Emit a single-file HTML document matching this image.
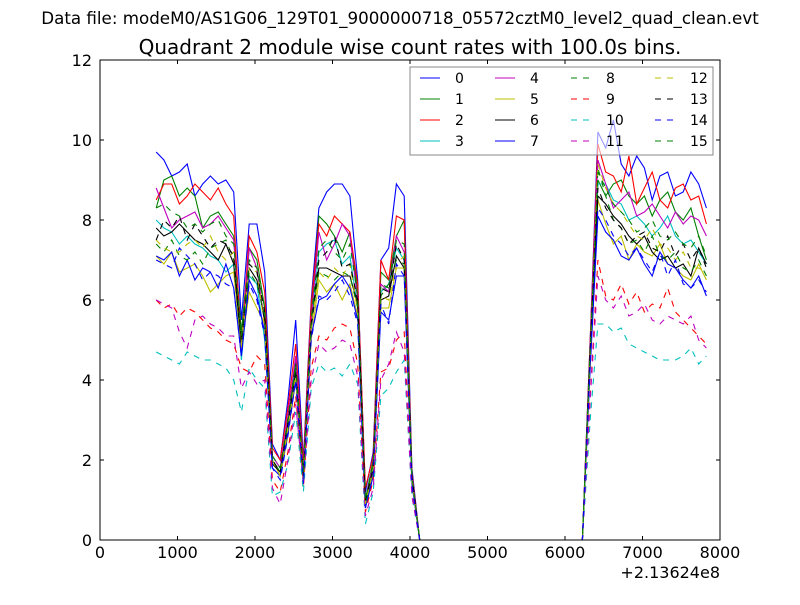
<!DOCTYPE html>
<html><head><meta charset="utf-8"><style>
html,body{margin:0;padding:0;background:#fff}
svg text{font-family:"DejaVu Sans","Liberation Sans",sans-serif}
</style></head><body>
<svg id="chart" width="800" height="600" xmlns="http://www.w3.org/2000/svg">
<rect x="0" y="0" width="800" height="600" fill="#fff"/>
<text x="400" y="24" font-size="16.7" text-anchor="middle">Data file: modeM0/AS1G06_129T01_9000000718_05572cztM0_level2_quad_clean.evt</text>
<text x="410" y="54" font-size="20" text-anchor="middle">Quadrant 2 module wise count rates with 100.0s bins.</text>
<g id="plot"></g>
<text x="720" y="578" font-size="16" text-anchor="end">+2.13624e8</text>
</svg>
<script>
const tStart = 725;
const binSize = 100;
const GAP = [0,0,0,0,0,0,0,0,0,0,0,0,0,0,0,0,0,0,0,0,0,0];
const xTicks = [0,1000,2000,3000,4000,5000,6000,7000,8000];
const yTicks = [0,2,4,6,8,10,12];
const labels = ['0','1','2','3','4','5','6','7','8','9','10','11','12','13','14','15'];
const colors = ['#0000ff','#008000','#ff0000','#00bfbf','#bf00bf','#bfbf00','#000000','#0000ff','#008000','#ff0000','#00bfbf','#bf00bf','#bfbf00','#000000','#0000ff','#008000'];
const s0 = [9.7,9.5,9.1,9.2,9.4,8.6,8.9,9.1,8.9,9.0,8.7,5.5,7.9,7.9,6.7,2.4,2.0,3.5,5.5,2.0,6.0,8.3,8.7,8.9,8.9,8.6,6.5,1.2,2.2,7.0,7.3,8.9,8.6,1.8].concat(GAP,[5.0,10.2,9.8,10.5,9.4,9.1,9.6,9.3,8.5,9.1,9.2,8.6,8.7,9.2,8.9,8.3]);
const s1 = [8.3,9.0,9.1,8.6,8.8,8.6,7.8,8.1,8.2,7.9,7.6,5.2,7.3,7.0,5.8,2.1,1.8,3.0,4.5,1.6,5.6,8.1,7.9,7.6,7.2,7.7,6.2,1.0,2.0,6.7,6.5,7.6,8.0,1.6].concat(GAP,[4.8,9.0,8.6,8.9,9.0,8.6,8.4,8.6,8.1,8.5,8.7,8.2,8.0,8.3,7.6,7.0]);
const s2 = [8.5,8.9,8.9,8.4,8.6,8.9,8.7,8.5,8.8,8.4,8.1,4.8,7.6,7.2,6.2,2.3,2.0,3.3,4.9,1.9,5.9,7.9,7.6,8.1,7.9,7.7,6.4,1.3,2.1,7.0,6.5,8.1,8.0,1.7].concat(GAP,[5.0,9.9,9.2,9.1,8.7,9.6,8.4,8.8,9.2,8.5,8.3,8.8,8.9,8.5,8.6,7.9]);
const s3 = [8.0,7.8,7.7,7.4,7.6,7.4,7.3,7.1,7.0,6.7,6.9,4.5,6.6,6.4,5.0,2.0,1.7,2.8,4.3,1.6,5.3,7.2,7.4,7.5,6.9,7.1,5.8,0.9,1.8,6.2,6.4,7.3,7.0,1.5].concat(GAP,[4.7,8.9,8.9,8.5,8.4,8.0,8.1,7.9,7.6,7.8,8.1,7.6,7.4,7.5,7.2,6.9]);
const s4 = [8.8,8.3,7.8,8.0,8.1,8.2,7.8,7.9,8.1,7.8,7.5,4.7,7.3,6.8,5.4,2.1,1.8,3.1,4.6,1.7,5.5,7.7,7.0,7.4,7.9,7.6,6.0,1.0,1.9,6.4,6.2,7.6,7.2,1.6].concat(GAP,[4.9,9.5,8.9,8.3,8.5,8.7,8.1,8.2,8.4,8.1,7.8,8.2,7.9,8.1,8.0,7.6]);
const s5 = [7.1,6.9,7.2,6.7,6.8,6.9,6.6,6.2,6.4,6.6,6.7,4.8,6.2,5.8,5.4,2.0,1.6,2.6,4.0,1.5,5.0,6.5,6.2,6.4,6.0,6.4,5.6,0.9,1.7,5.8,5.8,6.8,6.8,1.5].concat(GAP,[4.5,8.5,7.9,7.4,7.6,7.0,7.4,7.2,7.1,7.4,6.9,6.8,6.6,6.5,6.9,6.5]);
const s6 = [7.8,7.6,7.7,7.9,7.7,7.5,7.4,7.2,7.0,7.4,6.9,4.9,6.8,6.5,5.5,1.9,1.7,2.9,4.2,1.5,5.3,6.8,6.8,6.7,6.6,6.6,5.9,0.9,1.8,6.0,6.1,7.1,6.8,1.5].concat(GAP,[4.6,8.6,8.4,8.1,7.9,7.6,7.4,7.6,7.2,7.0,7.1,6.8,6.9,6.6,7.3,6.9]);
const s7 = [7.1,7.0,7.2,6.6,7.0,6.5,6.8,6.7,6.3,6.9,6.3,4.6,6.5,6.1,5.2,1.8,1.6,2.7,4.0,1.4,5.1,6.0,6.1,6.4,6.6,6.3,5.5,0.8,1.6,5.7,5.5,6.6,6.6,1.4].concat(GAP,[4.3,8.1,7.7,7.5,7.1,7.0,7.3,6.9,6.6,7.2,6.9,6.8,6.5,6.3,6.6,6.1]);
const s8 = [7.4,7.2,7.5,7.1,7.0,7.2,6.9,7.3,7.4,7.5,7.0,5.0,6.7,6.4,5.6,2.0,1.7,2.9,4.3,1.6,5.4,6.7,6.6,6.5,6.7,6.6,5.8,0.9,1.8,6.1,6.4,7.0,6.9,1.5].concat(GAP,[4.6,9.3,8.6,8.0,7.8,7.4,7.5,7.2,7.6,7.1,7.0,7.2,6.8,6.7,7.0,6.6]);
const s9 = [6.0,5.8,5.9,5.6,5.8,5.7,5.5,5.3,5.2,5.0,4.9,4.3,4.2,4.6,4.4,1.5,1.2,2.2,3.6,1.3,4.3,5.1,5.0,5.3,5.4,5.3,4.4,0.7,1.5,4.2,4.3,5.0,5.2,1.2].concat(GAP,[3.6,7.0,6.1,6.0,6.4,5.9,6.2,5.7,5.9,5.8,6.3,5.7,5.5,5.3,5.1,4.9]);
const s10 = [4.7,4.6,4.5,4.4,4.7,4.6,4.5,4.5,4.4,4.3,4.0,3.2,4.3,4.0,3.8,1.1,1.2,1.9,3.2,1.2,3.8,4.4,4.2,4.3,4.1,4.4,3.9,0.4,1.2,3.6,3.8,4.2,4.5,1.1].concat(GAP,[3.0,5.4,5.4,5.2,5.3,4.9,4.8,4.7,4.6,4.5,4.5,4.5,4.6,4.8,4.4,4.6]);
const s11 = [6.0,5.9,5.8,5.2,4.8,5.5,5.6,5.4,5.3,5.1,5.1,3.8,4.2,3.9,4.0,1.3,0.9,2.0,3.4,1.4,4.0,4.9,4.7,4.8,5.0,4.9,4.1,0.6,1.3,4.0,4.4,5.2,4.7,1.1].concat(GAP,[3.5,6.6,6.0,5.8,6.1,5.6,5.7,5.9,5.5,5.4,5.6,5.5,5.4,5.6,5.0,4.8]);
const s12 = [7.5,7.3,7.2,7.2,7.4,7.5,7.3,7.6,7.2,7.0,7.2,4.9,6.8,6.7,5.3,2.0,1.6,2.8,4.1,1.5,5.3,6.7,6.5,6.8,6.6,6.9,5.7,0.9,1.8,6.1,6.0,6.9,7.1,1.5].concat(GAP,[4.7,9.4,8.8,8.4,8.2,7.9,7.6,7.5,7.8,7.4,7.3,7.0,7.2,6.8,6.8,6.7]);
const s13 = [7.5,8.0,7.8,8.1,7.5,7.9,7.6,7.3,7.5,7.4,7.1,5.0,6.9,6.7,5.7,2.0,1.7,3.0,4.4,1.6,5.4,7.0,7.2,7.6,6.8,6.9,6.0,1.0,1.8,6.3,6.2,7.4,7.0,1.6].concat(GAP,[4.8,8.8,8.3,8.0,7.8,7.4,7.6,7.7,7.3,7.2,7.6,7.1,7.4,7.0,7.3,6.8]);
const s14 = [7.0,6.9,6.8,7.3,7.1,6.9,6.5,6.7,6.6,6.4,6.3,4.6,6.4,6.0,5.1,1.8,1.5,2.6,4.0,1.4,5.0,6.1,6.0,6.2,6.5,6.1,5.4,0.8,1.6,5.9,5.4,6.9,6.6,1.4].concat(GAP,[4.4,8.3,8.0,7.6,7.4,7.1,7.3,7.0,6.7,7.2,6.6,7.0,6.4,6.3,6.5,6.2]);
const s15 = [8.3,8.4,8.2,8.1,7.8,7.9,7.7,7.9,8.0,7.6,7.4,5.1,7.0,6.8,5.8,2.1,1.8,3.0,4.4,1.7,5.5,7.3,7.5,7.2,7.0,7.4,6.1,1.0,1.9,6.4,6.3,7.5,7.4,1.6].concat(GAP,[4.8,9.2,8.8,8.4,8.2,8.0,7.7,7.8,8.0,7.6,7.5,7.7,7.4,7.3,7.6,7.1]);
const series = [s0,s1,s2,s3,s4,s5,s6,s7,s8,s9,s10,s11,s12,s13,s14,s15];

const NS='http://www.w3.org/2000/svg';
const L=100,R=720,T=60,B=540,xMin=0,xMax=8000,yMin=0,yMax=12;
const xs=v=>L+(v-xMin)/(xMax-xMin)*(R-L);
const ys=v=>B-(v-yMin)/(yMax-yMin)*(B-T);
const plot=document.getElementById('plot');
function mk(tag,attrs,parent){const e=document.createElementNS(NS,tag);for(const k in attrs)e.setAttribute(k,attrs[k]);(parent||plot).appendChild(e);return e;}

const clip=mk('clipPath',{id:'clipArea'});
mk('rect',{x:L,y:T,width:R-L,height:B-T},clip);

const lines=mk('g',{'clip-path':'url(#clipArea)'});


series.forEach((s,i)=>{
  const pts=s.map((v,k)=>xs(tStart+k*binSize).toFixed(1)+','+ys(v).toFixed(1)).join(' ');
  const p=mk('polyline',{points:pts,fill:'none',stroke:colors[i],'stroke-width':1.1},lines);
  if(i>=8)p.setAttribute('stroke-dasharray','6,6');
  
  
});

const frame=mk('rect',{x:L,y:T,width:R-L,height:B-T,fill:'none',stroke:'#000','stroke-width':1});



xTicks.forEach(v=>{
  const x=xs(v);
  mk('line',{x1:x,y1:B,x2:x,y2:B-4,stroke:'#000'});
  mk('line',{x1:x,y1:T,x2:x,y2:T+4,stroke:'#000'});
  const t=mk('text',{x:x,y:B+18,'font-size':16,'text-anchor':'middle'});
  t.textContent=v;
  
  
});
yTicks.forEach(v=>{
  const y=ys(v);
  mk('line',{x1:L,y1:y,x2:L+4,y2:y,stroke:'#000'});
  mk('line',{x1:R,y1:y,x2:R-4,y2:y,stroke:'#000'});
  const t=mk('text',{x:L-8,y:y+6,'font-size':16,'text-anchor':'end'});
  t.textContent=v;
  
  
});

const lg=mk('g',{});


mk('rect',{x:410,y:67,width:303,height:88,fill:'#fff','fill-opacity':0.6,stroke:'#888','stroke-width':1},lg);
const colX=[420,495,571,655], labX=[455,530,606,690], rowY=[78,99,120,141];
labels.forEach((lab,i)=>{
  const c=Math.floor(i/4), r=i%4;
  const e=mk('g',{},lg);
  
  
  const ln=mk('line',{x1:colX[c],y1:rowY[r],x2:colX[c]+20,y2:rowY[r],stroke:colors[i],'stroke-width':1.1},e);
  if(i>=8)ln.setAttribute('stroke-dasharray','6,6');
  const t=mk('text',{x:labX[c],y:rowY[r]+5,'font-size':14},e);
  t.textContent=lab;
});
</script>
</body></html>
